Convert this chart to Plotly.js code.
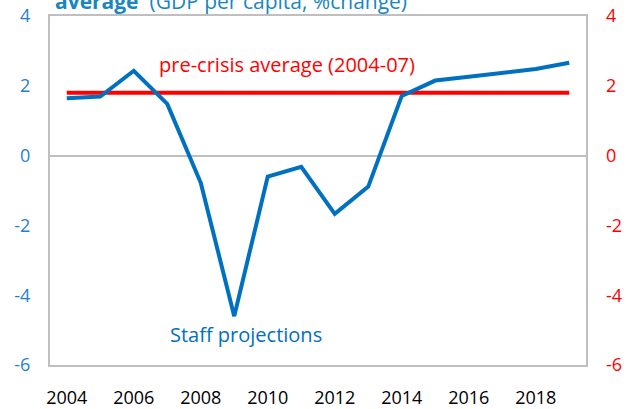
<!DOCTYPE html>
<html>
<head>
<meta charset="utf-8">
<script src="https://cdn.plot.ly/plotly-3.0.1.min.js"></script>
<style>html,body{margin:0;padding:0;background:#fff;}#chart{width:626px;height:409px;}</style>
</head>
<body>
<div id="chart"></div>
<script>
const years = [2004,2005,2006,2007,2008,2009,2010,2011,2012,2013,2014,2015,2016,2017,2018,2019];
const gdpGrowth = [1.64,1.69,2.43,1.48,-0.78,-4.6,-0.6,-0.32,-1.67,-0.89,1.71,2.15,2.26,2.38,2.48,2.66];
const preCrisisAvg = [1.8,1.8,1.8,1.8,1.8,1.8,1.8,1.8,1.8,1.8,1.8,1.8,1.8,1.8,1.8,1.8];
const xTicks = [2004,2006,2008,2010,2012,2014,2016,2018];
const yTicks = [-6,-4,-2,0,2,4];
const yTickText = ['-6','-4','-2','0','2','4'];

const FONT = 'Open Sans, Noto Sans, sans-serif';
const traces = [
  {x: years, y: preCrisisAvg, type:'scatter', mode:'lines', line:{color:'#FF0000', width:4}, hoverinfo:'skip'},
  {x: years, y: gdpGrowth, type:'scatter', mode:'lines', line:{color:'#0070C0', width:4}, hoverinfo:'skip'},
  {x: years, y: gdpGrowth, yaxis:'y2', type:'scatter', mode:'lines', line:{width:0}, showlegend:false, hoverinfo:'skip', opacity:0}
];
const layout = {
  width:626, height:409,
  margin:{l:50, r:40, t:16, b:44},
  paper_bgcolor:'#fff', plot_bgcolor:'#fff',
  showlegend:false,
  font:{family:FONT},
  xaxis:{range:[2003.5,2019.5], tickvals:xTicks, ticktext:xTicks.map(String), ticks:'', showgrid:false, zeroline:false,
         showline:true, mirror:true, linecolor:'#BFBFBF', linewidth:2, tickfont:{size:18, color:'#000', family:FONT}, ticklabelstandoff:15},
  yaxis:{range:[-6,4], tickvals:yTicks, ticktext:yTickText, ticks:'', showgrid:false, zeroline:true, zerolinecolor:'#BFBFBF', zerolinewidth:2,
         showline:true, mirror:true, linecolor:'#BFBFBF', linewidth:2, tickfont:{size:18, color:'#1F7FD0', family:FONT}, ticklabelstandoff:14},
  yaxis2:{range:[-6,4], tickvals:yTicks, ticktext:yTickText, overlaying:'y', side:'right', ticks:'', showgrid:false, zeroline:false,
          showline:false, tickfont:{size:18, color:'#FF0000', family:FONT}, ticklabelstandoff:19},
  annotations:[
    {xref:'x', yref:'y', x:2010.57, y:2.6, text:'pre-crisis average (2004-07)', showarrow:false,
     font:{size:20, color:'#FF0000', family:FONT}},
    {xref:'x', yref:'y', x:2009.35, y:-5.14, text:'Staff projections', showarrow:false,
     font:{size:20, color:'#0070C0', family:FONT}},
    {xref:'paper', yref:'paper', x:0.338, y:1.043, yanchor:'middle', text:'<b>average</b>  (GDP per capita, %change)', showarrow:false,
     font:{size:21, color:'#1A86BE', family:FONT}}
  ]
};
Plotly.newPlot('chart', traces, layout, {staticPlot:true, displayModeBar:false});
</script>
</body>
</html>
